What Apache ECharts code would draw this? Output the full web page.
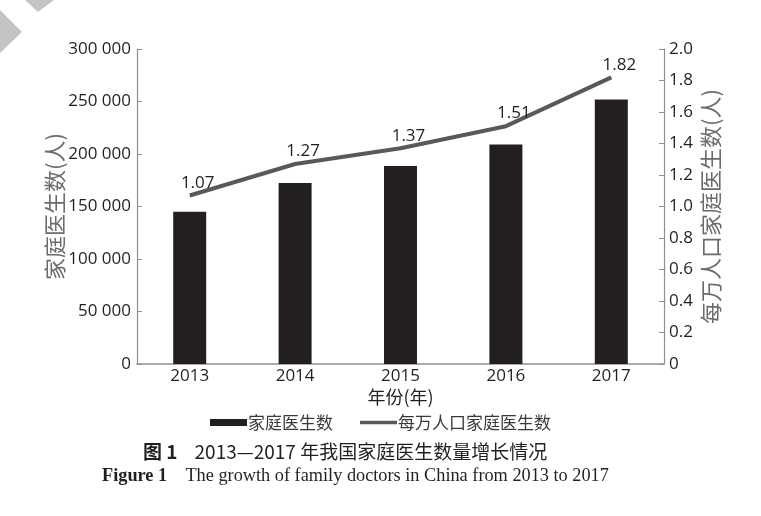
<!DOCTYPE html>
<html><head><meta charset="utf-8">
<script src="https://cdn.jsdelivr.net/npm/echarts@6/dist/echarts.min.js"></script>
<style>html,body{margin:0;padding:0;background:#fff}#c{width:761px;height:516px}</style>
</head><body><div id="c"></div>
<script>
const categories = ['2013', '2014', '2015', '2016', '2017'];
const doctors = [145000, 172500, 188500, 209000, 252000];
const perTenThousand = [1.07, 1.27, 1.37, 1.51, 1.82];
const leftTicks = { min: 0, max: 300000, interval: 50000 };
const rightTicks = { min: 0, max: 2.0, interval: 0.2 };

const chart = echarts.init(document.getElementById('c'));
const txt = '#231f20';
const axisGray = '#8f8f8f';
const sans = '"Open Sans", sans-serif';
const cjk = '"Noto Sans CJK SC", sans-serif';
chart.setOption({
  animation: false,
  grid: { left: 137, right: 97, top: 49, bottom: 152 },
  legend: {
    bottom: 80, left: 'center', itemGap: 27, itemWidth: 37, itemHeight: 7,
    textStyle: { fontFamily: cjk, fontSize: 17, color: '#3a3a3a', padding: [0, 0, 0, -4] },
    data: [
      { name: '家庭医生数', icon: 'rect' },
      { name: '每万人口家庭医生数', icon: 'path://M0,0 L40,0 L40,4 L0,4 Z' }
    ]
  },
  xAxis: {
    type: 'category', data: categories,
    name: '年份(年)', nameLocation: 'middle', nameGap: 24, nameMoveOverlap: false,
    nameTextStyle: { fontFamily: cjk, fontSize: 18, color: txt },
    axisLine: { lineStyle: { color: axisGray, width: 1.5 } },
    axisTick: { inside: true, length: 5, lineStyle: { color: '#333' } },
    axisLabel: { fontFamily: sans, fontSize: 17, color: txt, margin: 4 }
  },
  yAxis: [{
    type: 'value', min: leftTicks.min, max: leftTicks.max, interval: leftTicks.interval,
    name: '家庭医生数(人)', nameLocation: 'middle', nameGap: 71, nameRotate: 90, nameMoveOverlap: false,
    nameTextStyle: { fontFamily: cjk, fontSize: 22, color: '#6b6b6b' },
    splitLine: { show: false },
    axisLine: { show: true, lineStyle: { color: axisGray, width: 1.2 } },
    axisTick: { show: true, inside: true, length: 5, lineStyle: { color: axisGray } },
    axisLabel: { fontFamily: sans, fontSize: 17, color: txt, margin: 6,
      formatter: v => String(v).replace(/\B(?=(\d{3})+(?!\d))/g, ' ') }
  }, {
    type: 'value', min: rightTicks.min, max: rightTicks.max, interval: rightTicks.interval,
    position: 'right',
    name: '每万人口家庭医生数(人)', nameLocation: 'middle', nameGap: 36, nameRotate: 90, nameMoveOverlap: false,
    nameTextStyle: { fontFamily: cjk, fontSize: 22, color: '#6b6b6b' },
    splitLine: { show: false },
    axisLine: { show: true, lineStyle: { color: axisGray, width: 1.2 } },
    axisTick: { show: true, inside: true, length: 5, lineStyle: { color: axisGray } },
    axisLabel: { fontFamily: sans, fontSize: 17, color: txt, margin: 5,
      formatter: v => v === 0 ? '0' : v.toFixed(1) }
  }],
  series: [{
    name: '家庭医生数', type: 'bar', data: doctors, yAxisIndex: 0,
    barWidth: 33, itemStyle: { color: '#231f20' }
  }, {
    name: '每万人口家庭医生数', type: 'line', data: perTenThousand, yAxisIndex: 1,
    symbol: 'circle', symbolSize: 0.1, showSymbol: true,
    lineStyle: { color: '#595959', width: 4 }, itemStyle: { color: '#595959' },
    label: { show: true, position: 'top', distance: 4, offset: [8, 0],
      fontFamily: sans, fontSize: 17, color: txt, formatter: p => p.value.toFixed(2) }
  }],
  graphic: [
    { type: 'polygon', shape: { points: [[25, 0], [38, 12], [54, 0]] }, style: { fill: '#c4c4c4' } },
    { type: 'polygon', shape: { points: [[0, 10], [22, 32], [0, 53]] }, style: { fill: '#c4c4c4' } },
    { type: 'text', left: 143, top: 442, style: {
      text: '{b|图 1}    2013—2017 年我国家庭医生数量增长情况',
      font: '19px "Noto Sans CJK SC"', fill: txt,
      rich: { b: { fontFamily: 'Noto Sans CJK SC', fontWeight: 'bold', fontSize: 19, fill: txt } }
    } },
    { type: 'text', left: 102, top: 467, style: {
      text: '{b|Figure 1}    The growth of family doctors in China from 2013 to 2017',
      font: '18.3px "Liberation Serif"', fill: txt,
      rich: { b: { fontFamily: 'Liberation Serif', fontWeight: 'bold', fontSize: 18.3, fill: txt } }
    } }
  ]
});
</script></body></html>
